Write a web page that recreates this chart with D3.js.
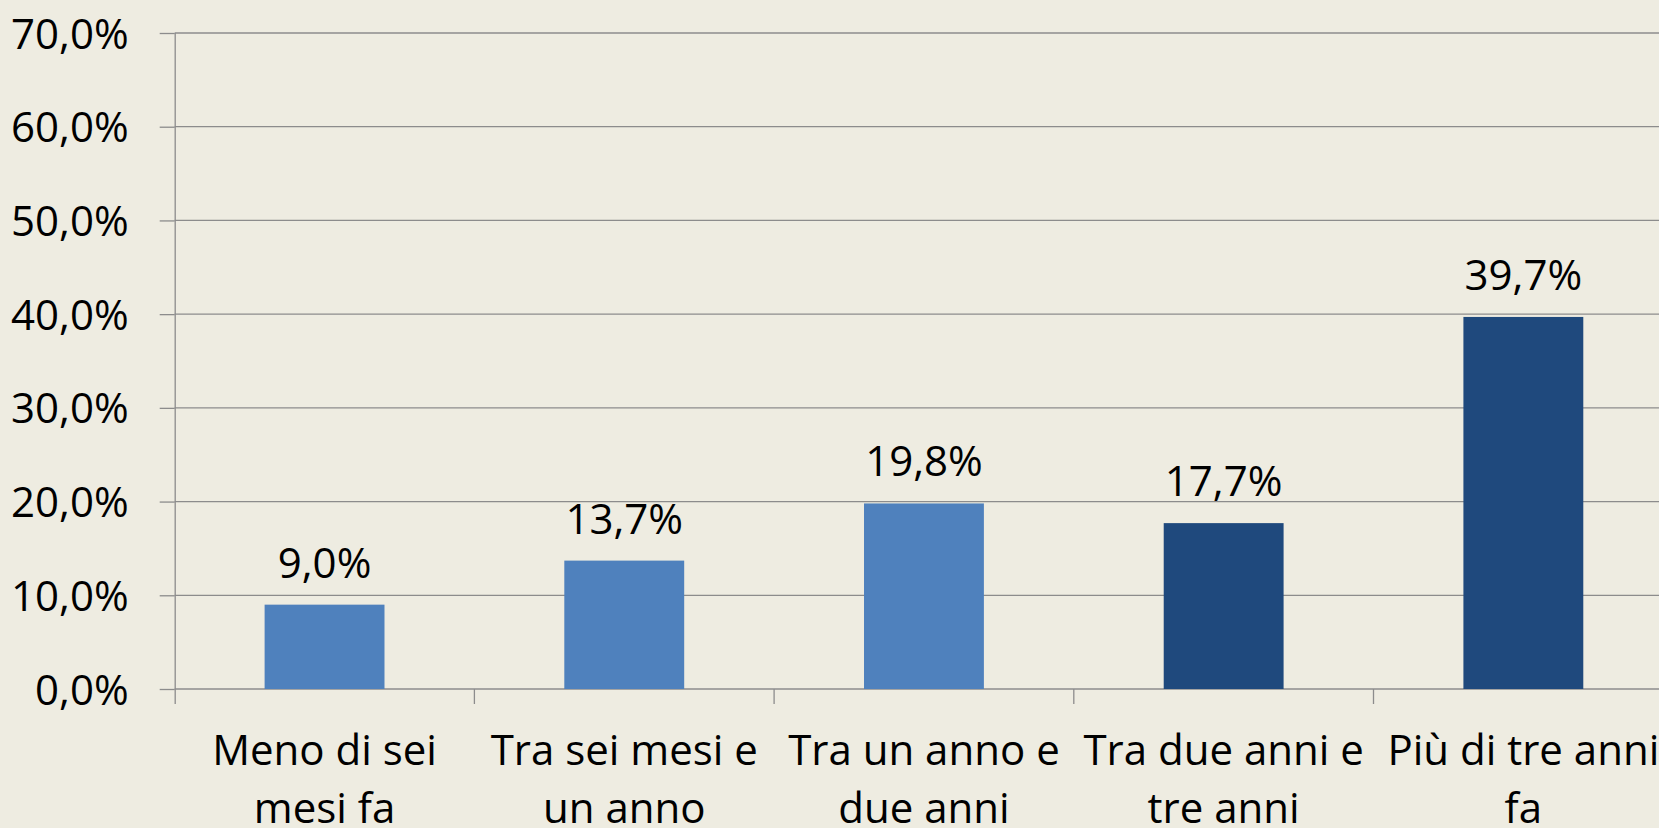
<!DOCTYPE html>
<html>
<head>
<meta charset="utf-8">
<script src="https://cdn.jsdelivr.net/npm/d3@7"></script>
<style>
  html, body { margin: 0; padding: 0; background: #EEECE1; overflow: hidden; }
  svg text { font-family: "Open Sans", sans-serif; fill: #000; }
</style>
</head>
<body>
<div class="chart"></div>
<script>
// Chart data
const categories = [
    'Meno di sei mesi fa',
    'Tra sei mesi e un anno',
    'Tra un anno e due anni',
    'Tra due anni e tre anni',
    'Più di tre anni fa'
];
const values = [0.090, 0.137, 0.198, 0.177, 0.397];
const barColors = ['#4F81BD', '#4F81BD', '#4F81BD', '#1F497D', '#1F497D'];
const yTicks = [0, 0.1, 0.2, 0.3, 0.4, 0.5, 0.6, 0.7];

const W = 1659, H = 828;
const fontSize = 42;

// Plot area runs past the right edge of the window, like the original
const margin = { left: 174.7, top: 33, bottom: 139 };
const step = 299.7;
const plotRight = margin.left + step * categories.length;
const plotBottom = H - margin.bottom;

// Italian number format (comma decimal)
const itLocale = d3.formatLocale({ decimal: ',', thousands: '.', grouping: [3], currency: ['', ' €'] });
const pct = itLocale.format('.1%');

const svg = d3.select('.chart').append('svg')
    .attr('width', W)
    .attr('height', H);

svg.append('rect').attr('width', W).attr('height', H).attr('fill', '#EEECE1');

const x = d3.scaleBand()
    .domain(categories)
    .range([margin.left, plotRight])
    .paddingInner(0.6)
    .paddingOuter(0.3);

const y = d3.scaleLinear()
    .domain([0, 0.7])
    .range([plotBottom, margin.top]);

const gridColor = '#8C8C8C';

// Horizontal gridlines
svg.append('g').attr('class', 'grid')
    .selectAll('line')
    .data(yTicks)
    .enter().append('line')
        .attr('x1', margin.left)
        .attr('x2', plotRight)
        .attr('y1', d => y(d))
        .attr('y2', d => y(d))
        .attr('stroke', gridColor)
        .attr('stroke-width', 1.3);

// Bars
svg.append('g').attr('class', 'bars')
    .selectAll('rect')
    .data(values)
    .enter().append('rect')
        .attr('x', (d, i) => x(categories[i]))
        .attr('width', x.bandwidth())
        .attr('y', d => y(d))
        .attr('height', d => y(0) - y(d))
        .attr('fill', (d, i) => barColors[i]);

// Y axis
const yAxis = svg.append('g').attr('class', 'y-axis')
    .attr('transform', 'translate(' + margin.left + ',0)')
    .call(d3.axisLeft(y)
        .tickValues(yTicks)
        .tickSize(15)
        .tickPadding(31)
        .tickFormat(pct));

yAxis.select('.domain')
    .attr('stroke', gridColor)
    .attr('stroke-width', 1.3)
    .attr('d', 'M0.5,' + y(0.7) + 'V' + (plotBottom + 15));
yAxis.selectAll('.tick line').attr('stroke', gridColor).attr('stroke-width', 1.3);
yAxis.selectAll('.tick text')
    .attr('font-size', fontSize)
    .attr('font-family', '"Open Sans", sans-serif')
    .attr('dy', '0.36em');

// X axis: line plus ticks on category boundaries
const xAxis = svg.append('g').attr('class', 'x-axis');
const boundaries = categories.map(c => x(c) - x.step() * x.paddingInner() / 2).concat([plotRight]);

xAxis.selectAll('line.tick')
    .data(boundaries.slice(1))
    .enter().append('line')
        .attr('class', 'tick')
        .attr('x1', d => d).attr('x2', d => d)
        .attr('y1', plotBottom).attr('y2', plotBottom + 15)
        .attr('stroke', gridColor)
        .attr('stroke-width', 1.3);

// Category labels, wrapped to the band width
const measure = svg.append('text').attr('font-size', fontSize).attr('visibility', 'hidden');
function wrap(str, maxW) {
    let words = str.split(' '), lines = [], cur = '';
    words.forEach(w => {
        let test = cur ? cur + ' ' + w : w;
        measure.text(test);
        if (cur && measure.node().getComputedTextLength() > maxW) {
            lines.push(cur);
            cur = w;
        } else {
            cur = test;
        }
    });
    if (cur) lines.push(cur);
    return lines;
}

const lineH = 58;
categories.forEach(c => {
    const t = xAxis.append('text')
        .attr('text-anchor', 'middle')
        .attr('font-size', fontSize)
        .attr('x', x(c) + x.bandwidth() / 2)
        .attr('y', plotBottom + 76);
    wrap(c, x.step() - 4).forEach((ln, i) => {
        t.append('tspan')
            .attr('x', x(c) + x.bandwidth() / 2)
            .attr('dy', i === 0 ? 0 : lineH)
            .text(ln);
    });
});
measure.remove();

// Value labels
svg.append('g').attr('class', 'labels')
    .selectAll('text')
    .data(values)
    .enter().append('text')
        .attr('text-anchor', 'middle')
        .attr('font-size', fontSize)
        .attr('x', (d, i) => x(categories[i]) + x.bandwidth() / 2)
        .attr('y', d => y(d) - 27)
        .text(d => pct(d));
</script>
</body>
</html>
